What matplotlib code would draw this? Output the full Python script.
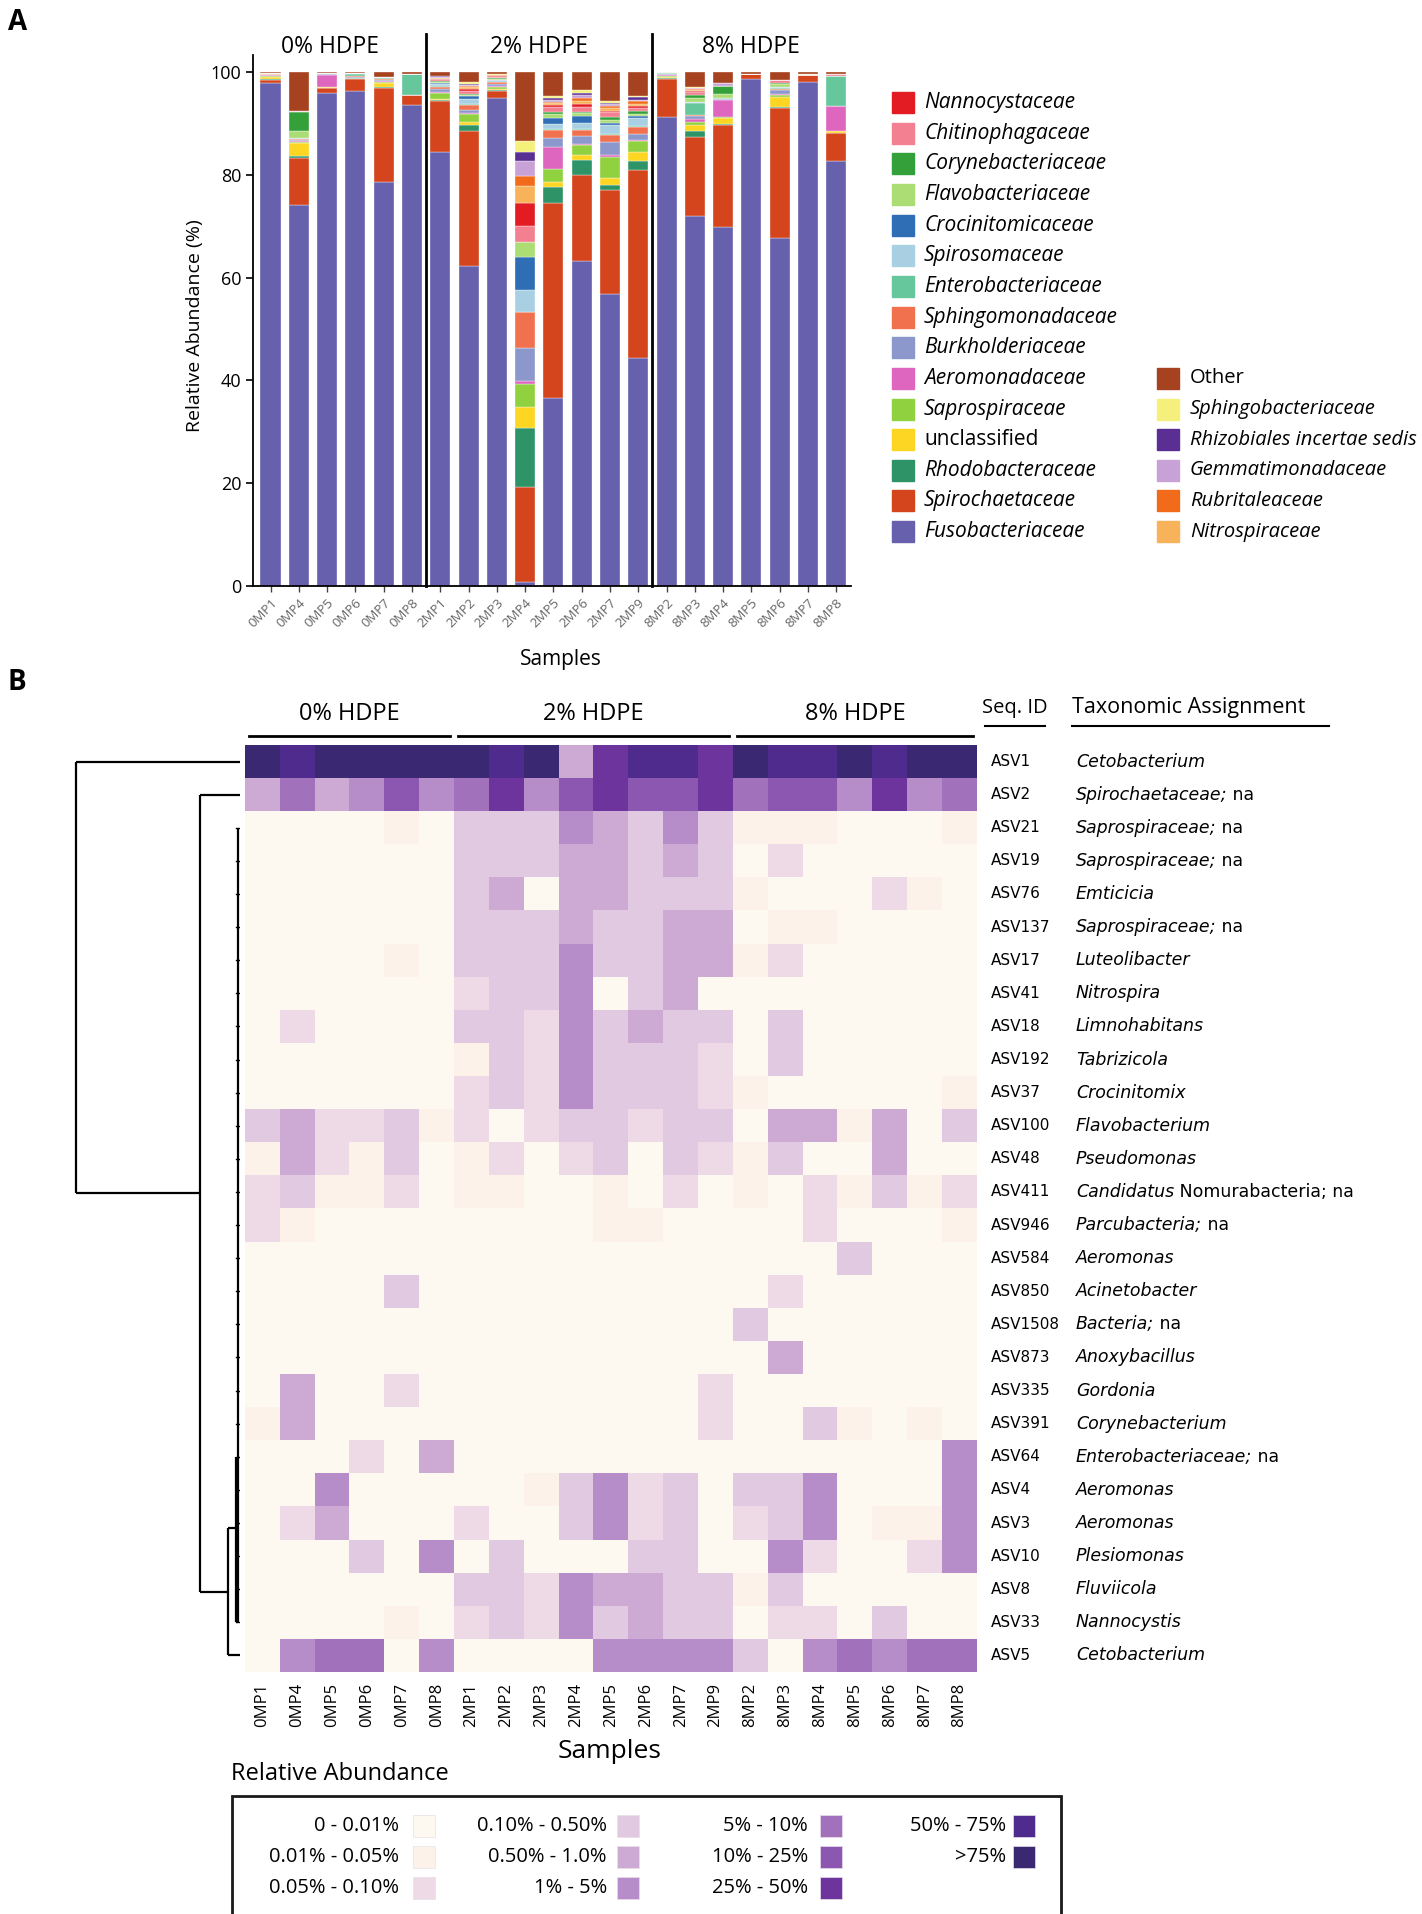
import matplotlib
matplotlib.use("Agg")
import matplotlib.pyplot as plt
import numpy as np
from matplotlib.colors import ListedColormap, BoundaryNorm
from matplotlib.patches import Rectangle
from matplotlib.lines import Line2D

W, H = 1422, 1914
plt.rcParams["font.family"] = ["Open Sans", "DejaVu Sans"]

samples = ["0MP1", "0MP4", "0MP5", "0MP6", "0MP7", "0MP8",
           "2MP1", "2MP2", "2MP3", "2MP4", "2MP5", "2MP6", "2MP7", "2MP9",
           "8MP2", "8MP3", "8MP4", "8MP5", "8MP6", "8MP7", "8MP8"]
group_names = ["0% HDPE", "2% HDPE", "8% HDPE"]
group_sizes = [6, 8, 7]

# panel A, relative abundance (%) of each family per sample
fusobacteriaceae = [97.8, 74.2, 96.0, 96.3, 78.6, 93.5, 84.5, 62.2, 94.9, 0.7, 36.6, 63.2, 56.9, 44.3, 91.3, 72.0, 69.8, 98.6, 67.7, 98.1, 82.7]
spirochaetaceae = [0.7, 9.1, 0.8, 2.4, 18.3, 2.1, 9.8, 26.3, 1.3, 18.5, 38.0, 16.7, 20.1, 36.6, 7.4, 15.4, 19.9, 1.0, 25.3, 1.3, 5.4]
rhodobacteraceae = [0.1, 0.3, 0.1, 0.1, 0.2, 0, 0.3, 1.1, 0.3, 11.5, 3.1, 3.0, 1.0, 1.8, 0.2, 1.1, 0.1, 0, 0.2, 0, 0]
unclassified = [0.4, 2.6, 0.1, 0, 0.7, 0, 0.2, 0.7, 0.1, 4.1, 0.9, 0.9, 1.3, 1.8, 0.1, 1.2, 1.3, 0, 2.0, 0, 0.4]
saprospiraceae = [0.3, 0.2, 0.1, 0, 0.3, 0, 1.1, 1.5, 0.5, 4.5, 2.5, 2.0, 4.2, 2.0, 0.3, 0.6, 0.1, 0, 0.3, 0, 0]
aeromonadaceae = [0.1, 0.2, 2.4, 0.1, 0.1, 0, 0.2, 0.2, 0.2, 0.5, 4.3, 0.2, 0.3, 0.2, 0.2, 0.6, 3.3, 0, 0.2, 0, 4.8]
burkholderiaceae = [0.1, 0.2, 0.1, 0.1, 0.2, 0, 0.5, 0.6, 0.4, 6.5, 1.8, 1.6, 2.5, 1.2, 0.1, 0.5, 0.2, 0, 0.7, 0, 0]
sphingomonadaceae = [0.1, 0.1, 0.1, 0.2, 0.2, 0, 0.4, 1.0, 0.3, 7.0, 1.5, 1.1, 1.4, 1.3, 0.1, 0.3, 0.1, 0, 0.2, 0, 0]
enterobacteriaceae = [0.1, 0.1, 0.1, 0.5, 0.3, 4.1, 0.2, 0.2, 0.1, 0, 0.2, 0.2, 0.2, 0.2, 0.1, 2.2, 0.2, 0, 0.2, 0, 6.0]
spirosomaceae = [0, 0.1, 0, 0.1, 0.1, 0, 0.4, 1.0, 0.3, 4.3, 1.0, 1.2, 1.8, 1.6, 0, 0.2, 0, 0, 0.3, 0, 0]
crocinitomicaceae = [0, 0, 0, 0, 0, 0, 0.2, 0.5, 0.1, 6.5, 1.1, 1.3, 0.4, 0.5, 0, 0.1, 0, 0, 0, 0, 0]
flavobacteriaceae = [0.1, 1.4, 0, 0, 0.1, 0, 0.3, 0.3, 0.2, 2.8, 0.9, 0.6, 0.6, 0.3, 0.1, 0.8, 0.8, 0, 0.6, 0.3, 0]
corynebacteriaceae = [0, 3.8, 0, 0, 0, 0, 0.1, 0.2, 0.1, 0, 0.3, 0.3, 0.5, 0.6, 0, 0.5, 1.4, 0, 0.2, 0, 0]
chitinophagaceae = [0, 0.1, 0, 0, 0, 0, 0.4, 0.5, 0.3, 3.2, 0.9, 0.8, 1.0, 0.6, 0, 0.6, 0.1, 0, 0.5, 0, 0.3]
nannocystaceae = [0, 0, 0, 0, 0, 0, 0.1, 0.4, 0.1, 4.4, 0.4, 0.7, 0.3, 0.4, 0, 0.2, 0, 0, 0, 0, 0]
nitrospiraceae = [0, 0, 0, 0, 0, 0, 0.1, 0.3, 0.1, 3.4, 0.4, 0.6, 0.5, 0.3, 0, 0.2, 0, 0, 0, 0, 0]
rubritaleaceae = [0, 0, 0, 0, 0, 0, 0.1, 0.2, 0.1, 1.8, 0.3, 0.5, 0.4, 0.6, 0, 0.1, 0, 0, 0, 0, 0]
gemmatimonadaceae = [0, 0, 0, 0, 0, 0, 0.2, 0.3, 0.1, 2.9, 0.4, 0.6, 0.4, 0.3, 0, 0.2, 0.6, 0, 0, 0, 0]
rhizobiales = [0, 0, 0, 0, 0, 0, 0.1, 0.2, 0, 1.8, 0.4, 0.5, 0.2, 0.5, 0, 0, 0, 0, 0, 0, 0]
sphingobacteriaceae = [0, 0, 0, 0, 0, 0, 0.1, 0.3, 0.1, 2.2, 0.4, 0.4, 0.3, 0.2, 0, 0.2, 0, 0, 0, 0, 0]
other = [0.2, 7.6, 0.2, 0.2, 0.9, 0.3, 0.7, 2.0, 0.4, 13.4, 4.6, 3.6, 5.7, 4.7, 0.1, 3.0, 2.1, 0.4, 1.6, 0.3, 0.4]

# bottom to top
stack = [
    ("Fusobacteriaceae", fusobacteriaceae, "#6660ad"),
    ("Spirochaetaceae", spirochaetaceae, "#d4441d"),
    ("Rhodobacteraceae", rhodobacteraceae, "#2e9468"),
    ("unclassified", unclassified, "#fdd523"),
    ("Saprospiraceae", saprospiraceae, "#90d13f"),
    ("Aeromonadaceae", aeromonadaceae, "#df66bf"),
    ("Burkholderiaceae", burkholderiaceae, "#8c98cb"),
    ("Sphingomonadaceae", sphingomonadaceae, "#f1714f"),
    ("Enterobacteriaceae", enterobacteriaceae, "#66c69c"),
    ("Spirosomaceae", spirosomaceae, "#a8d0e2"),
    ("Crocinitomicaceae", crocinitomicaceae, "#2f6db5"),
    ("Flavobacteriaceae", flavobacteriaceae, "#acdc74"),
    ("Corynebacteriaceae", corynebacteriaceae, "#34a03a"),
    ("Chitinophagaceae", chitinophagaceae, "#f38090"),
    ("Nannocystaceae", nannocystaceae, "#e31c24"),
    ("Nitrospiraceae", nitrospiraceae, "#f7b25a"),
    ("Rubritaleaceae", rubritaleaceae, "#f26b1b"),
    ("Gemmatimonadaceae", gemmatimonadaceae, "#c8a2d6"),
    ("Rhizobiales incertae sedis", rhizobiales, "#5a2e92"),
    ("Sphingobacteriaceae", sphingobacteriaceae, "#f5f07c"),
    ("Other", other, "#a6421f"),
]
legend_col1 = ["Nannocystaceae", "Chitinophagaceae", "Corynebacteriaceae", "Flavobacteriaceae",
               "Crocinitomicaceae", "Spirosomaceae", "Enterobacteriaceae", "Sphingomonadaceae",
               "Burkholderiaceae", "Aeromonadaceae", "Saprospiraceae", "unclassified",
               "Rhodobacteraceae", "Spirochaetaceae", "Fusobacteriaceae"]
legend_col2 = ["Other", "Sphingobacteriaceae", "Rhizobiales incertae sedis",
               "Gemmatimonadaceae", "Rubritaleaceae", "Nitrospiraceae"]
upright_names = ["unclassified", "Other"]

# panel B, abundance class (index into level_labels) per ASV and sample
seq_ids = ["ASV1", "ASV2", "ASV21", "ASV19", "ASV76", "ASV137", "ASV17", "ASV41", "ASV18",
           "ASV192", "ASV37", "ASV100", "ASV48", "ASV411", "ASV946", "ASV584", "ASV850",
           "ASV1508", "ASV873", "ASV335", "ASV391", "ASV64", "ASV4", "ASV3", "ASV10",
           "ASV8", "ASV33", "ASV5"]
taxa_italic = ["Cetobacterium", "Spirochaetaceae;", "Saprospiraceae;", "Saprospiraceae;", "Emticicia",
               "Saprospiraceae;", "Luteolibacter", "Nitrospira", "Limnohabitans", "Tabrizicola",
               "Crocinitomix", "Flavobacterium", "Pseudomonas", "Candidatus", "Parcubacteria;",
               "Aeromonas", "Acinetobacter", "Bacteria;", "Anoxybacillus", "Gordonia",
               "Corynebacterium", "Enterobacteriaceae;", "Aeromonas", "Aeromonas", "Plesiomonas",
               "Fluviicola", "Nannocystis", "Cetobacterium"]
taxa_plain = ["", " na", " na", " na", "", " na", "", "", "", "", "", "", "", " Nomurabacteria; na",
              " na", "", "", " na", "", "", "", " na", "", "", "", "", "", ""]
abundance_class = [
    [10, 9, 10, 10, 10, 10, 10, 9, 10, 4, 8, 9, 9, 8, 10, 9, 9, 10, 9, 10, 10],
    [4, 6, 4, 5, 7, 5, 6, 8, 5, 7, 8, 7, 7, 8, 6, 7, 7, 5, 8, 5, 6],
    [0, 0, 0, 0, 1, 0, 3, 3, 3, 5, 4, 3, 5, 3, 1, 1, 1, 0, 0, 0, 1],
    [0, 0, 0, 0, 0, 0, 3, 3, 3, 4, 4, 3, 4, 3, 0, 2, 0, 0, 0, 0, 0],
    [0, 0, 0, 0, 0, 0, 3, 4, 0, 4, 4, 3, 3, 3, 1, 0, 0, 0, 2, 1, 0],
    [0, 0, 0, 0, 0, 0, 3, 3, 3, 4, 3, 3, 4, 4, 0, 1, 1, 0, 0, 0, 0],
    [0, 0, 0, 0, 1, 0, 3, 3, 3, 5, 3, 3, 4, 4, 1, 2, 0, 0, 0, 0, 0],
    [0, 0, 0, 0, 0, 0, 2, 3, 3, 5, 0, 3, 4, 0, 0, 0, 0, 0, 0, 0, 0],
    [0, 2, 0, 0, 0, 0, 3, 3, 2, 5, 3, 4, 3, 3, 0, 3, 0, 0, 0, 0, 0],
    [0, 0, 0, 0, 0, 0, 1, 3, 2, 5, 3, 3, 3, 2, 0, 3, 0, 0, 0, 0, 0],
    [0, 0, 0, 0, 0, 0, 2, 3, 2, 5, 3, 3, 3, 2, 1, 0, 0, 0, 0, 0, 1],
    [3, 4, 2, 2, 3, 1, 2, 0, 2, 3, 3, 2, 3, 3, 0, 4, 4, 1, 4, 0, 3],
    [1, 4, 2, 1, 3, 0, 1, 2, 0, 2, 3, 0, 3, 2, 1, 3, 0, 0, 4, 0, 0],
    [2, 3, 1, 1, 2, 0, 1, 1, 0, 0, 1, 0, 2, 0, 1, 0, 2, 1, 3, 1, 2],
    [2, 1, 0, 0, 0, 0, 0, 0, 0, 0, 1, 1, 0, 0, 0, 0, 2, 0, 0, 0, 1],
    [0, 0, 0, 0, 0, 0, 0, 0, 0, 0, 0, 0, 0, 0, 0, 0, 0, 3, 0, 0, 0],
    [0, 0, 0, 0, 3, 0, 0, 0, 0, 0, 0, 0, 0, 0, 0, 2, 0, 0, 0, 0, 0],
    [0, 0, 0, 0, 0, 0, 0, 0, 0, 0, 0, 0, 0, 0, 3, 0, 0, 0, 0, 0, 0],
    [0, 0, 0, 0, 0, 0, 0, 0, 0, 0, 0, 0, 0, 0, 0, 4, 0, 0, 0, 0, 0],
    [0, 4, 0, 0, 2, 0, 0, 0, 0, 0, 0, 0, 0, 2, 0, 0, 0, 0, 0, 0, 0],
    [1, 4, 0, 0, 0, 0, 0, 0, 0, 0, 0, 0, 0, 2, 0, 0, 3, 1, 0, 1, 0],
    [0, 0, 0, 2, 0, 4, 0, 0, 0, 0, 0, 0, 0, 0, 0, 0, 0, 0, 0, 0, 5],
    [0, 0, 5, 0, 0, 0, 0, 0, 1, 3, 5, 2, 3, 0, 3, 3, 5, 0, 0, 0, 5],
    [0, 2, 4, 0, 0, 0, 2, 0, 0, 3, 5, 2, 3, 0, 2, 3, 5, 0, 1, 1, 5],
    [0, 0, 0, 3, 0, 5, 0, 3, 0, 0, 0, 3, 3, 0, 0, 5, 2, 0, 0, 2, 5],
    [0, 0, 0, 0, 0, 0, 3, 3, 2, 5, 4, 4, 3, 3, 1, 3, 0, 0, 0, 0, 0],
    [0, 0, 0, 0, 1, 0, 2, 3, 2, 5, 3, 4, 3, 3, 0, 2, 2, 0, 3, 0, 0],
    [0, 5, 6, 6, 0, 5, 0, 0, 0, 0, 5, 5, 5, 5, 3, 0, 5, 6, 5, 6, 6],
]
level_labels = ["0 - 0.01%", "0.01% - 0.05%", "0.05% - 0.10%", "0.10% - 0.50%", "0.50% - 1.0%",
                "1% - 5%", "5% - 10%", "10% - 25%", "25% - 50%", "50% - 75%", ">75%"]
level_colors = ["#fdf9f0", "#fcf2ea", "#eddae6", "#e1c9e1", "#cdaad4", "#b68dc8",
                "#a271bc", "#8b57b1", "#6c349c", "#4e2b8d", "#3a2873"]

# dendrogram: merge distances (px from leaf tips) and row where the core cluster joins
core_height = 2.5
asv5_height = 12
asv2_height = 40
root_height = 164
core_join_row = 23.15


def fx(px):
    return px / W


def fy(py):
    return 1 - py / H


fig = plt.figure(figsize=(W / 100, H / 100), dpi=100)

# ---------------- panel A ----------------
axA = fig.add_axes([fx(253), fy(586), (851 - 253) / W, (586 - 55) / H])
x = np.arange(len(samples))
bottom = np.zeros(len(samples))
colors = {}
for name, vals, col in stack:
    vals = np.array(vals, dtype=float)
    axA.bar(x, vals, width=0.71, bottom=bottom, color=col, edgecolor="white", linewidth=0.25)
    bottom += vals
    colors[name] = col

ytop = 103.3
axA.spines["top"].set_visible(False)
axA.spines["right"].set_visible(False)
axA.spines["left"].set_linewidth(1.3)
axA.spines["bottom"].set_linewidth(1.3)
axA.set_yticks([0, 20, 40, 60, 80, 100])
axA.tick_params(axis="y", labelsize=13, length=5, width=1.2)
axA.set_xticks(x)
axA.set_xticklabels(samples, rotation=45, ha="right", rotation_mode="anchor",
                    fontsize=9.5, color="#666666")
axA.tick_params(axis="x", length=4, width=1, color="#444444")
axA.set_ylabel("Relative Abundance (%)", fontsize=14)
axA.yaxis.set_label_coords(-0.082, 0.49)
axA.set_xlabel("Samples", fontsize=15)
axA.xaxis.set_label_coords(0.515, -0.118)

edges = np.cumsum(group_sizes)
starts = np.concatenate([[0], edges[:-1]])
for e in edges[:-1]:
    axA.plot([e - 0.5, e - 0.5], [0, 107.4], color="black", lw=2.0, clip_on=False)
label_pos_A = [2.1, 9.5, 17.0]
for g, xp in zip(group_names, label_pos_A):
    axA.text(xp, 104.9, g, ha="center", va="center", fontsize=16.5)
axA.set_ylim(0, ytop)
axA.set_xlim(-0.62, 20.52)

# legend for panel A
row_step = 30.65
for i, name in enumerate(legend_col1):
    yc = 102.5 + i * row_step
    fig.add_artist(Rectangle((fx(892), fy(yc + 10.5)), 21.5 / W, 21 / H, color=colors[name],
                             transform=fig.transFigure))
    fig.text(fx(924), fy(yc), name, fontsize=15, va="center", ha="left",
             style="normal" if name in upright_names else "italic")
for i, name in enumerate(legend_col2):
    yc = 102.5 + (i + 9) * row_step
    fig.add_artist(Rectangle((fx(1157), fy(yc + 10.5)), 21.5 / W, 21 / H, color=colors[name],
                             transform=fig.transFigure))
    fig.text(fx(1190), fy(yc), name, fontsize=14.5, va="center", ha="left",
             style="normal" if name in upright_names else "italic")

fig.text(fx(8), fy(22), "A", fontsize=20, fontweight="bold", va="center", ha="left")
fig.text(fx(8), fy(683), "B", fontsize=20, fontweight="bold", va="center", ha="left")

# ---------------- panel B heatmap ----------------
axH = fig.add_axes([fx(245), fy(1672), (977 - 245) / W, (1672 - 745) / H])
cmap = ListedColormap(level_colors)
norm = BoundaryNorm(np.arange(-0.5, len(level_colors) + 0.5, 1), len(level_colors))
axH.imshow(np.array(abundance_class), cmap=cmap, norm=norm, aspect="auto", interpolation="nearest")
for sp in axH.spines.values():
    sp.set_visible(False)
axH.set_yticks([])
axH.set_xticks(np.arange(len(samples)))
axH.set_xticklabels(samples, rotation=90, fontsize=12)
axH.tick_params(axis="x", length=0, pad=8)

for g, s, n in zip(group_names, starts, group_sizes):
    axH.plot([s - 0.38, s + n - 0.62], [-0.77, -0.77], color="black", lw=2.0, clip_on=False)
    axH.text(s + (n - 1) / 2, -1.44, g, ha="center", va="center", fontsize=17)
axH.set_xlim(-0.5, len(samples) - 0.5)
axH.set_ylim(len(seq_ids) - 0.5, -0.5)

ytr = axH.get_yaxis_transform()
for i, (sid, ti, tp) in enumerate(zip(seq_ids, taxa_italic, taxa_plain)):
    axH.text(1.019, i, sid, transform=ytr, fontsize=11, family="DejaVu Sans", va="center", ha="left")
    t = axH.text(1.135, i, ti, transform=ytr, fontsize=12.5, family="DejaVu Sans", style="italic",
                 va="center", ha="left")
    if tp:
        axH.annotate(tp, xy=(1, 0), xycoords=t, va="bottom", ha="left", fontsize=12.5,
                     family="DejaVu Sans")

fig.text(fx(1015), fy(708), "Seq. ID", fontsize=14.5, ha="center", va="center")
fig.text(fx(1072), fy(708), "Taxonomic Assignment", fontsize=15.5,
         ha="left", va="center")
fig.add_artist(Line2D([fx(985), fx(1045)], [fy(726), fy(726)], color="black", lw=1.5))
fig.add_artist(Line2D([fx(1072), fx(1329)], [fy(726), fy(726)], color="black", lw=1.5))

fig.text(fx(610), fy(1752), "Samples", fontsize=19, ha="center", va="center")

# ---------------- dendrogram ----------------
axD = fig.add_axes([fx(60), fy(1672), (240 - 60) / W, (1672 - 745) / H])
lk = dict(color="black", lw=1.6, solid_capstyle="butt")
last = len(seq_ids) - 1
for r in range(2, last):
    axD.plot([0, core_height + 1.2], [r, r], color="black", lw=1.0)
axD.plot([core_height, core_height], [2, last - 1], **lk)
axD.plot([core_height + 1.5, core_height + 1.5], [last - 6, last - 1], **lk)
axD.plot([core_height, asv5_height], [core_join_row, core_join_row], **lk)
axD.plot([0, asv5_height], [last, last], **lk)
axD.plot([asv5_height, asv5_height], [core_join_row, last], **lk)
node_b = (core_join_row + last) / 2
axD.plot([asv5_height, asv2_height], [node_b, node_b], **lk)
axD.plot([0, asv2_height], [1, 1], **lk)
axD.plot([asv2_height, asv2_height], [1, node_b], **lk)
node_c = (1 + node_b) / 2
axD.plot([asv2_height, root_height], [node_c, node_c], **lk)
axD.plot([0, root_height], [0, 0], **lk)
axD.plot([root_height, root_height], [0, node_c], **lk)
axD.set_xlim(240 - 60, 0)
axD.set_ylim(len(seq_ids) - 0.5, -0.5)
axD.axis("off")

# ---------------- heatmap legend ----------------
fig.text(fx(231), fy(1774), "Relative Abundance", fontsize=17, ha="left", va="center")
fig.add_artist(Rectangle((fx(232), fy(1935)), (1061 - 232) / W, (1935 - 1796) / H, fill=False,
                         edgecolor="#1a1a1a", lw=2.0, transform=fig.transFigure))
legend_cols = [[0, 1, 2], [3, 4, 5], [6, 7, 8], [9, 10]]
label_right = [399, 607, 808, 1006]
swatch_left = [413, 617, 820, 1013]
for c, idxs in enumerate(legend_cols):
    for r, k in enumerate(idxs):
        yc = 1826 + r * 31
        fig.text(fx(label_right[c]), fy(yc), level_labels[k], fontsize=14.5, ha="right", va="center")
        fig.add_artist(Rectangle((fx(swatch_left[c]), fy(yc + 11)), 22 / W, 22 / H,
                                 facecolor=level_colors[k], edgecolor="#e8e0e8", lw=0.5,
                                 transform=fig.transFigure))

fig.savefig("out.png", dpi=100)
